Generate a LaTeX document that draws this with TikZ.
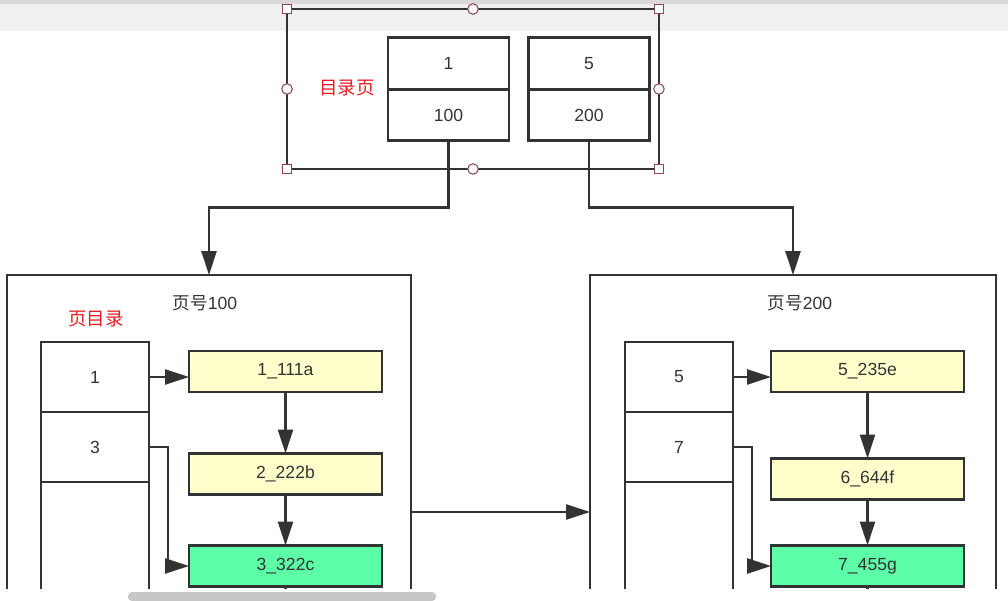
\documentclass[tikz,border=0pt]{standalone}
\usepackage{fontspec}
\setmainfont{Liberation Sans}
\newfontfamily\cjk{Noto Sans CJK SC}
\usetikzlibrary{positioning, arrows.meta}
\definecolor{linegray}{RGB}{51,51,51}
\definecolor{recyellow}{RGB}{255,255,204}
\definecolor{recgreen}{RGB}{92,255,168}
\definecolor{labelred}{RGB}{232,30,36}
\definecolor{handlecol}{RGB}{140,70,85}
\tikzset{
    cell/.style={draw=linegray, line width=1.5pt, outer sep=0pt, inner sep=0pt, text=linegray, font=\fontsize{10}{12}\selectfont},
    topcell/.style={cell, minimum width=2.42cm, minimum height=1.03cm},
    dircell/.style={cell, minimum width=2.16cm, minimum height=1.4cm},
    rec/.style={cell, fill=recyellow, minimum width=3.86cm, minimum height=0.82cm},
    pagebox/.style={cell, minimum height=9.48cm},
    redlabel/.style={text=labelred, font=\cjk\fontsize{10.5}{12}\selectfont},
    title/.style={text=linegray, font=\fontsize{10}{12}\selectfont},
    handlesq/.style={draw=handlecol, line width=0.6pt, fill=white, minimum size=0.18cm, inner sep=0pt},
    handleci/.style={handlesq, circle, minimum size=0.21cm},
    link/.style={draw=linegray, line width=1.5pt, -{Triangle[length=0.48cm, width=0.3cm]}}
}

\begin{document}
\begin{tikzpicture}[x=0.02cm, y=-0.02cm]
    \clip (0,0) rectangle (1008,601);
    % window strip at the top
    \fill [black!15] (0,0) rectangle (1008,4);
    \fill [black!6] (0,4) rectangle (1008,31);

    % directory page (selected)
    \node (sel) [cell, minimum width=7.44cm, minimum height=3.2cm] at (473,89) {};
    \node (tk1) [topcell] at (448.5,63.5) {1};
    \node (tp1) [topcell, below=0pt of tk1] {100};
    \node (tk2) [topcell] at (589,63.5) {5};
    \node (tp2) [topcell, below=0pt of tk2] {200};
    \node (seltitle) [redlabel] at (347,88) {目录页};
    \foreach \a in {north west, north east, south west, south east}
        \node [handlesq] at (sel.\a) {};
    \foreach \a in {north, south, west, east}
        \node [handleci] at (sel.\a) {};

    % page 100
    \node (page1) [pagebox, minimum width=8.08cm] at (209,512) {};
    \node (p1title) [title] at (205,303) {{\cjk 页号}100};
    \node (p1dir) [redlabel] at (96,319) {页目录};
    \node (lk1) [dircell] at (95,377) {1};
    \node (lk2) [dircell, below=0pt of lk1] {3};
    \node (lk3) [dircell, below=0pt of lk2, minimum height=3cm] {};
    \node (rec1) [rec] at (285.5,371.5) {1\_111a};
    \node (rec2) [rec] at (285.5,474) {2\_222b};
    \node (rec3) [rec, fill=recgreen] at (285.5,566) {3\_322c};

    % page 200
    \node (page2) [pagebox, minimum width=8.12cm] at (793,512) {};
    \node (p2title) [title] at (800,303) {{\cjk 页号}200};
    \node (rk1) [dircell] at (679,377) {5};
    \node (rk2) [dircell, below=0pt of rk1] {7};
    \node (rk3) [dircell, below=0pt of rk2, minimum height=3cm] {};
    \node (rec4) [rec] at (867.5,371.5) {5\_235e};
    \node (rec5) [rec] at (867.5,479) {6\_644f};
    \node (rec6) [rec, fill=recgreen] at (867.5,566) {7\_455g};

    % links
    \draw [link] (tp1.south) -- ++(0,67) -| (page1.north);
    \draw [link] (tp2.south) -- ++(0,67) -| (page2.north);
    \draw [link] (page1.east) -- (page2.west);
    \draw [link] (lk1.east) -- (lk1.east -| rec1.west);
    \draw [link] (lk2.east) -- ++(19,0) |- (rec3.west);
    \draw [link] (rec1) -- (rec2);
    \draw [link] (rec2) -- (rec3);
    \draw [link] (rk1.east) -- (rk1.east -| rec4.west);
    \draw [link] (rk2.east) -- ++(19,0) |- (rec6.west);
    \draw [link] (rec4) -- (rec5);
    \draw [link] (rec5) -- (rec6);
    \draw [draw=linegray, line width=1.5pt] (rec3.south) -- ++(0,10);
    \draw [draw=linegray, line width=1.5pt] (rec6.south) -- ++(0,10);

    % scrollbar at the bottom
    \fill [white] (0,589) rectangle (1008,601);
    \fill [black!22, rounded corners=0.08cm] (128,592) rectangle (436,601);
\end{tikzpicture}
\end{document}
